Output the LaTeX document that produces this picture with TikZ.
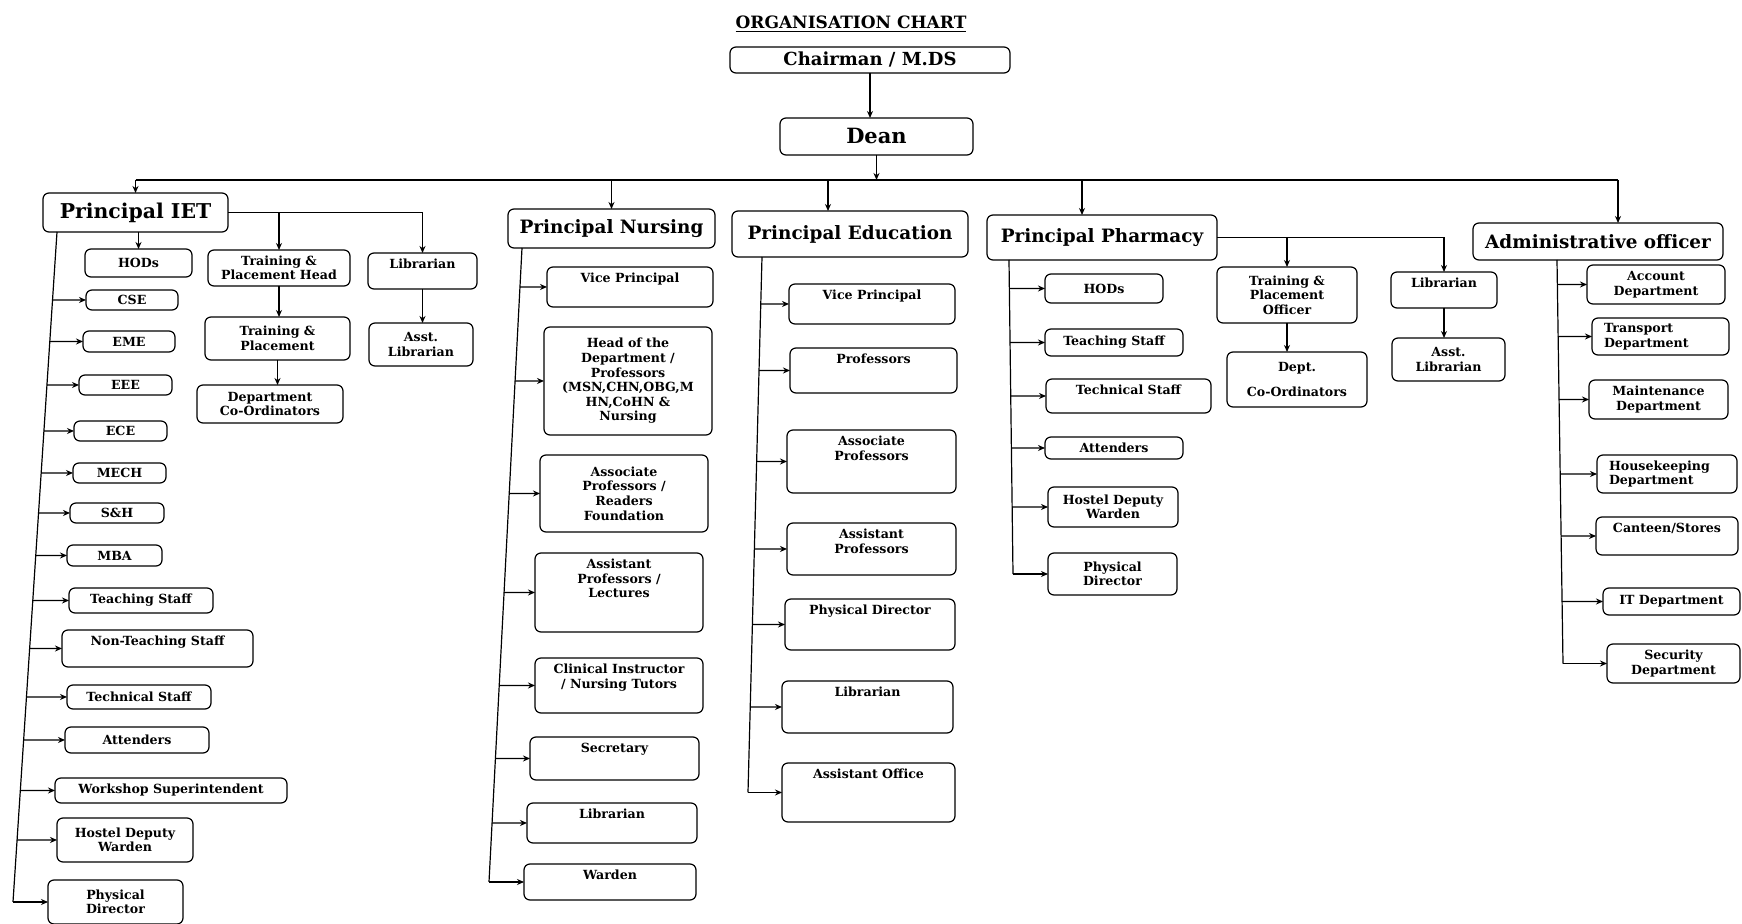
\documentclass[tikz,border=0pt]{standalone}
\usepackage{fontspec}
\setmainfont{DejaVu Serif}
\usetikzlibrary{arrows.meta,calc}

\newdimen\pxu \pxu=0.5pt
\newcommand{\headfont}{\fontsize{9.2}{11}\selectfont}
% box from (x1,y1) to (x2,y2), text centred [c] or at the top [t]
\newcommand{\orgnode}[7][c]{%
  \node[orgbox, anchor=north west] (#2) at (#3,#4)
    {\parbox[c][\dimexpr\pxu*\numexpr#6-#4\relax\relax][#1]{\dimexpr\pxu*\numexpr#5-#3\relax\relax}%
      {\if t#1\vspace*{3pt}\fi\centering #7\par}};}

\tikzset{
  orgbox/.style={draw, rounded corners=3pt, line width=0.6pt, inner sep=0pt, outer sep=0pt,
    font=\fontsize{6.3}{7.3}\selectfont\bfseries},
}

\begin{document}
\begin{tikzpicture}[x=0.5pt, y=-0.5pt, >={Stealth[length=3.5pt,width=3pt]}, line width=0.6pt]

    \fill[white] (0,0) rectangle (1742,924);
    \useasboundingbox (0,0) rectangle (1742,924);

    % Top
    \node[font=\fontsize{8.5}{10}\selectfont\bfseries] (title) at (851,24) {\underline{ORGANISATION CHART}};
    \orgnode{chair}{730}{47}{1010}{73}{\fontsize{9}{11}\selectfont Chairman / M.DS}
    \orgnode{dean}{780}{118}{973}{155}{\fontsize{10.5}{12}\selectfont Dean}

    % Principals
    \orgnode{iet}{43}{193}{228}{232}{\fontsize{10.2}{12}\selectfont Principal IET}
    \orgnode{pn}{508}{209}{715}{248}{\headfont Principal Nursing}
    \orgnode{pe}{732}{211}{968}{257}{\headfont Principal Education}
    \orgnode{pp}{987}{215}{1217}{260}{\headfont Principal Pharmacy}
    \orgnode{ao}{1473}{223}{1723}{260}{\headfont Administrative officer}

    % IET
    \orgnode{ihods}{85}{249}{192}{277}{HODs}
    \orgnode{itph}{208}{250}{350}{286}{Training \&\\Placement Head}
    \orgnode[t]{ilib}{368}{253}{477}{289}{Librarian}
    \orgnode{itp}{205}{317}{350}{360}{Training \&\\Placement}
    \orgnode{idco}{197}{385}{343}{423}{Department\\Co-Ordinators}
    \orgnode{iasl}{369}{323}{473}{366}{Asst.\\Librarian}
    \orgnode{icse}{86}{290}{178}{310}{CSE}
    \orgnode{ieme}{83}{331}{175}{352}{EME}
    \orgnode{ieee}{79}{375}{172}{395}{EEE}
    \orgnode{iece}{74}{421}{167}{441}{ECE}
    \orgnode{imech}{73}{463}{166}{483}{MECH}
    \orgnode{ish}{70}{503}{164}{523}{S\&H}
    \orgnode{imba}{67}{545}{162}{566}{MBA}
    \orgnode{itst}{69}{588}{213}{613}{Teaching Staff}
    \orgnode[t]{ints}{62}{630}{253}{667}{Non-Teaching Staff}
    \orgnode{itch}{67}{685}{211}{709}{Technical Staff}
    \orgnode{iatt}{65}{727}{209}{753}{Attenders}
    \orgnode{iwss}{55}{778}{287}{803}{Workshop Superintendent}
    \orgnode{ihdw}{57}{818}{193}{862}{Hostel Deputy\\Warden}
    \orgnode{ipd}{48}{880}{183}{924}{Physical\\Director}

    % Nursing
    \orgnode[t]{nvp}{547}{267}{713}{307}{Vice Principal}
    \orgnode{nhod}{544}{327}{712}{435}{Head of the\\Department /\\Professors\\(MSN,CHN,OBG,M\\HN,CoHN \&\\Nursing}
    \orgnode{nasc}{540}{455}{708}{532}{Associate\\Professors /\\Readers\\Foundation}
    \orgnode[t]{nasst}{535}{553}{703}{632}{Assistant\\Professors /\\Lectures}
    \orgnode[t]{ncli}{535}{658}{703}{713}{Clinical Instructor\\/ Nursing Tutors}
    \orgnode[t]{nsec}{530}{737}{699}{780}{Secretary}
    \orgnode[t]{nlib}{527}{803}{697}{843}{Librarian}
    \orgnode[t]{nwar}{524}{864}{696}{900}{Warden}

    % Education
    \orgnode[t]{evp}{789}{284}{955}{324}{Vice Principal}
    \orgnode[t]{eprof}{790}{348}{957}{393}{Professors}
    \orgnode[t]{easc}{787}{430}{956}{493}{Associate\\Professors}
    \orgnode[t]{easst}{787}{523}{956}{575}{Assistant\\Professors}
    \orgnode[t]{epd}{785}{599}{955}{650}{Physical Director}
    \orgnode[t]{elib}{782}{681}{953}{733}{Librarian}
    \orgnode[t]{eao}{782}{763}{955}{822}{Assistant Office}

    % Pharmacy
    \orgnode{phods}{1045}{274}{1163}{303}{HODs}
    \orgnode{ptst}{1045}{329}{1183}{356}{Teaching Staff}
    \orgnode[t]{ptch}{1046}{379}{1211}{413}{Technical Staff}
    \orgnode{patt}{1045}{437}{1183}{459}{Attenders}
    \orgnode{phdw}{1048}{487}{1178}{527}{Hostel Deputy\\Warden}
    \orgnode{ppd}{1048}{553}{1177}{595}{Physical\\Director}
    \orgnode{ptpo}{1217}{267}{1357}{323}{Training \&\\Placement\\Officer}
    \orgnode{pdco}{1227}{352}{1367}{407}{Dept.\\[5pt]Co-Ordinators}
    \orgnode[t]{plib}{1391}{272}{1497}{308}{Librarian}
    \orgnode{pasl}{1392}{338}{1505}{381}{Asst.\\Librarian}

    % Administration
    \orgnode{aacc}{1587}{265}{1725}{304}{Account\\Department}
    \orgnode{atr}{1592}{318}{1729}{355}{\raggedright\hspace*{6pt}Transport\\\hspace*{6pt}Department}
    \orgnode{amnt}{1589}{380}{1728}{419}{Maintenance\\Department}
    \orgnode{ahk}{1597}{455}{1737}{493}{\raggedright\hspace*{6pt}Housekeeping\\\hspace*{6pt}Department}
    \orgnode[t]{acs}{1596}{517}{1738}{555}{Canteen/Stores}
    \orgnode{ait}{1603}{588}{1740}{615}{IT Department}
    \orgnode{asec}{1607}{644}{1740}{683}{Security\\Department}

    % Chairman, Dean and the bus
    \coordinate (bus) at (870,180);
    \coordinate (peIn) at ([xshift=-11pt]pe.north);
    \coordinate (ppIn) at ([xshift=-10pt]pp.north);
    \coordinate (aoIn) at ([xshift=10pt]ao.north);
    \draw[->] (chair.south) -- (chair.south |- dean.north);
    \draw[->] (dean.south) -- (dean.south |- bus);
    \draw (iet.north |- bus) -- (aoIn |- bus);
    \draw[->] (iet.north |- bus) -- (iet.north);
    \draw[->] (pn.north |- bus) -- (pn.north);
    \draw[->] (peIn |- bus) -- (peIn);
    \draw[->] (ppIn |- bus) -- (ppIn);
    \draw[->] (aoIn |- bus) -- (aoIn);

    % IET links
    \draw[->] (iet.south -| ihods.north) -- (ihods.north);
    \draw[->] (iet.east) -| (ilib.north);
    \draw[->] (iet.east -| itph.north) -- (itph.north);
    \draw[->] (itph.south) -- (itph.south |- itp.north);
    \draw[->] (itp.south) -- (itp.south |- idco.north);
    \draw[->] (ilib.south) -- (ilib.south |- iasl.north);
    \coordinate (ietT) at (57,232);
    \coordinate (ietB) at (13,902);
    \draw (ietT) -- (ietB);
    \foreach \b in {icse,ieme,ieee,iece,imech,ish,imba,itst,ints,itch,iatt,iwss,ihdw}
        \draw[->] (intersection of ietT--ietB and \b.west--\b.east) -- (\b.west);
    \draw[->] (ietB) -- (ipd.west);

    % Nursing links
    \coordinate (pnT) at (522,248);
    \coordinate (pnB) at (489,882);
    \draw (pnT) -- (pnB);
    \foreach \b in {nvp,nhod,nasc,nasst,ncli,nsec,nlib}
        \draw[->] (intersection of pnT--pnB and \b.west--\b.east) -- (\b.west);
    \draw[->] (pnB) -- (nwar.west);

    % Education links
    \coordinate (peT) at (762,257);
    \coordinate (peB) at (748,792.5);
    \draw (peT) -- (peB);
    \foreach \b in {evp,eprof,easc,easst,epd,elib}
        \draw[->] (intersection of peT--peB and \b.west--\b.east) -- (\b.west);
    \draw[->] (peB) -- (eao.west);

    % Pharmacy links
    \draw[->] (pp.east) -| (plib.north);
    \draw[->] (pp.east -| ptpo.north) -- (ptpo.north);
    \draw[->] (ptpo.south) -- (ptpo.south |- pdco.north);
    \draw[->] (plib.south) -- (plib.south |- pasl.north);
    \coordinate (ppT) at (1009,260);
    \coordinate (ppB) at (1013,574);
    \draw (ppT) -- (ppB);
    \foreach \b in {phods,ptst,ptch,patt,phdw}
        \draw[->] (intersection of ppT--ppB and \b.west--\b.east) -- (\b.west);
    \draw[->] (ppB) -- (ppd.west);

    % Administration links
    \coordinate (aoT) at (1557,260);
    \coordinate (aoB) at (1563,663.5);
    \draw (aoT) -- (aoB);
    \foreach \b in {aacc,atr,amnt,ahk,acs,ait}
        \draw[->] (intersection of aoT--aoB and \b.west--\b.east) -- (\b.west);
    \draw[->] (aoB) -- (asec.west);

\end{tikzpicture}
\end{document}
